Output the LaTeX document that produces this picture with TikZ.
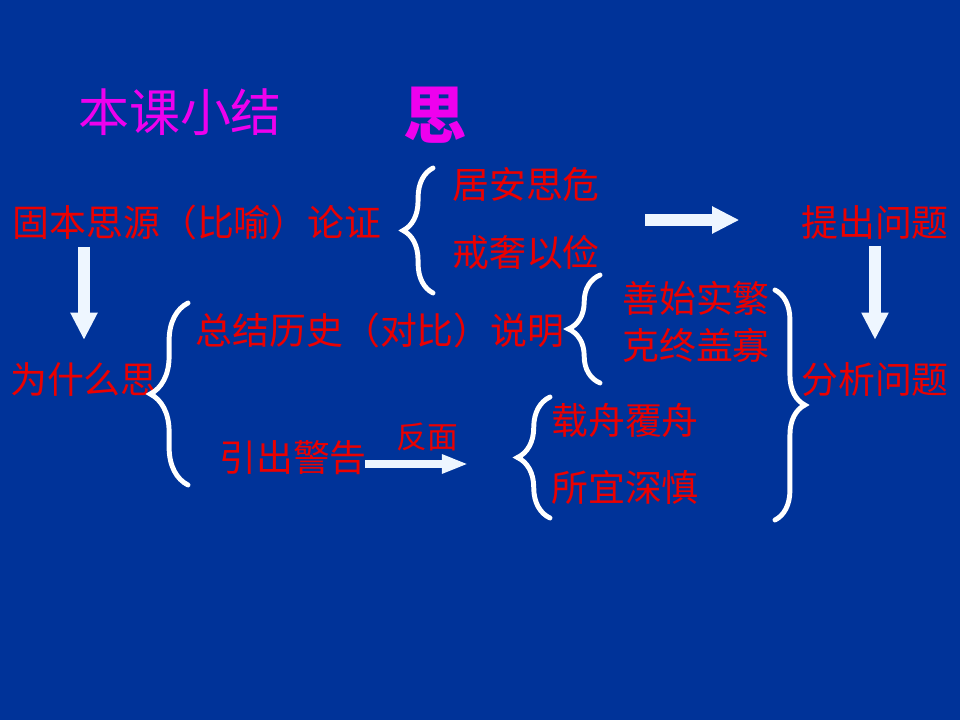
\documentclass[tikz,border=0pt]{standalone}
\usepackage{fontspec}
\setmainfont{Noto Sans CJK SC}
\usepackage{xcolor}
\usetikzlibrary{arrows.meta, positioning, decorations.pathreplacing}
\definecolor{slideBlue}{RGB}{0,51,153}
\definecolor{textRed}{RGB}{235,0,0}
\definecolor{titleMagenta}{RGB}{238,0,238}
\definecolor{arrowWhite}{RGB}{238,246,255}

\begin{document}
\begin{tikzpicture}[x=0.02cm, y=-0.02cm,
  lbl/.style={text=textRed, inner sep=0pt, font=\fontsize{21}{24}\selectfont},
  small/.style={text=textRed, inner sep=0pt, font=\fontsize{17.5}{20}\selectfont},
  grp/.style={draw=white, line width=2.8pt, line cap=round, decorate,
              decoration={brace, amplitude=#1}},
  bigarrow/.style={draw=arrowWhite, line width=7pt,
                   -{Triangle[width=14.5pt, length=15.5pt]}},
  thinarrow/.style={draw=arrowWhite, line width=4.5pt,
                    -{Triangle[width=10pt, length=15pt]}}
]
% background
\fill[slideBlue] (0,0) rectangle (960,720);
\useasboundingbox (0,0) rectangle (960,720);

% Title
\node[inner sep=0pt, text=titleMagenta, font=\fontsize{29}{32}\selectfont] (title) at (180,112) {本课小结};
\node[inner sep=0pt, text=titleMagenta, font=\fontsize{36}{38}\selectfont\bfseries] (si) at (435,115) {思};

% Row 1
\node[lbl] (gu) at (197,222) {固本思源（比喻）论证};
\node[lbl] (ju) at (526,185) {居安思危};
\node[lbl] (jie) at (526,252) {戒奢以俭};
\node[lbl] (ti) at (875,222) {提出问题};

% Row 2
\node[lbl] (wei) at (84,380) {为什么思};
\node[lbl] (zong) at (380,330) {总结历史（对比）说明};
\node[lbl] (shan) at (696,298) {善始实繁};
\node[lbl] (ke) at (696,345) {克终盖寡};
\node[lbl] (fen) at (875,380) {分析问题};

% Row 3
\node[lbl] (yin) at (293,458) {引出警告};
\node[small] (fan) at (427,437) {反面};
\node[lbl] (zai) at (625,420) {载舟覆舟};
\node[lbl] (suo) at (625,487) {所宜深慎};

% Braces
\coordinate (b1a) at (433,293); \coordinate (b1b) at (433,168);
\coordinate (b2a) at (188,485); \coordinate (b2b) at (188,303);
\coordinate (b3a) at (600,383); \coordinate (b3b) at (600,275);
\coordinate (b4a) at (550,518); \coordinate (b4b) at (550,397);
\coordinate (b5a) at (775,290); \coordinate (b5b) at (775,520);
\draw[grp=17pt] (b1a) -- (b1b);
\draw[grp=21.5pt] (b2a) -- (b2b);
\draw[grp=18pt] (b3a) -- (b3b);
\draw[grp=18.5pt] (b4a) -- (b4b);
\draw[grp=17pt] (b5a) -- (b5b);

% Arrows
\coordinate (r1) at (645,220);
\coordinate (r2) at (365,464);
\draw[bigarrow, shorten >=35pt] (r1) -- (ti.west |- r1);
\draw[bigarrow, shorten <=4pt, shorten >=13pt] (wei.north |- gu.south) -- (wei.north);
\draw[bigarrow, shorten <=4pt, shorten >=13pt] (ti.south) -- (fen.north);
\draw[thinarrow, shorten >=47pt] (r2) -- (zai.west |- r2);

\end{tikzpicture}
\end{document}
